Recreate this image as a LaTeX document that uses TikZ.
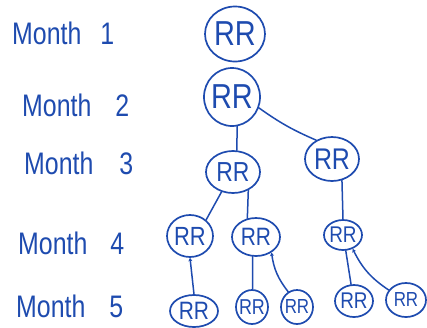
\documentclass[tikz,border=0pt]{standalone}
\usepackage{fontspec}
\setmainfont{Liberation Sans}
\usetikzlibrary{shapes.geometric,arrows.meta}
\definecolor{ink}{RGB}{30,75,175}
\newcommand\pairtext[1]{\makebox[0pt]{\raisebox{-.5\height}[0pt][0pt]{\scalebox{1}[1.2]{#1}}}}
\newcommand\monthtext[2]{\scalebox{1}[1.25]{Month \hspace{#1}#2}}
\tikzset{
  pair/.style={ellipse, draw=ink, line width=1.7bp, text=ink, inner sep=0pt},
  lbl/.style={text=ink, anchor=west, inner sep=0pt, font=\fontsize{25}{25}\selectfont},
  link/.style={draw=ink, line width=1.5bp, line cap=round},
  uplink/.style={link, -{Stealth[length=3.5bp,width=4bp]}}
}
\begin{document}
\begin{tikzpicture}[x=1bp,y=-1bp]
\useasboundingbox (0,0) rectangle (427,328);
% month labels
\node[lbl] (m1) at (12,33) {\monthtext{12bp}{1}};
\node[lbl] (m2) at (22,105) {\monthtext{17bp}{2}};
\node[lbl] (m3) at (24,163) {\monthtext{19bp}{3}};
\node[lbl] (m4) at (18,243) {\monthtext{16bp}{4}};
\node[lbl] (m5) at (16,306) {\monthtext{17bp}{5}};
% rabbit pairs
\node[pair, minimum width=60bp, minimum height=55bp, font=\fontsize{29}{29}\selectfont] (n1) at (235,34) {\pairtext{RR}};
\node[pair, minimum width=56bp, minimum height=58bp, font=\fontsize{29}{29}\selectfont] (n2) at (232,97) {\pairtext{RR}};
\node[pair, minimum width=54bp, minimum height=42bp, font=\fontsize{23}{23}\selectfont] (n3a) at (233,172) {\pairtext{RR}};
\node[pair, minimum width=54bp, minimum height=44bp, font=\fontsize{25}{25}\selectfont] (n3b) at (332,159) {\pairtext{RR}};
\node[pair, minimum width=46bp, minimum height=42bp, font=\fontsize{22}{22}\selectfont] (n4a) at (190,236) {\pairtext{RR}};
\node[pair, minimum width=48bp, minimum height=38bp, font=\fontsize{21}{21}\selectfont] (n4b) at (256,237) {\pairtext{RR}};
\node[pair, minimum width=38bp, minimum height=30bp, font=\fontsize{19}{19}\selectfont] (n4c) at (343,235) {\pairtext{RR}};
\node[pair, minimum width=48bp, minimum height=32bp, font=\fontsize{21}{21}\selectfont] (n5a) at (194,311) {\pairtext{RR}};
\node[pair, minimum width=32bp, minimum height=34bp, font=\fontsize{18}{18}\selectfont] (n5b) at (252,307) {\pairtext{RR}};
\node[pair, minimum width=32bp, minimum height=34bp, font=\fontsize{17}{17}\selectfont] (n5c) at (297,307) {\pairtext{RR}};
\node[pair, minimum width=38bp, minimum height=32bp, font=\fontsize{19}{19}\selectfont] (n5d) at (354,301) {\pairtext{RR}};
\node[pair, minimum width=40bp, minimum height=34bp, font=\fontsize{17}{17}\selectfont] (n5e) at (406,300) {\pairtext{RR}};
% connectors
\draw[link] (n2.-80) -- (n3a.80);
\draw[link] (n2.-22) to[bend right=6] (n3b.130);
\draw[link] (n3a.-120) -- (n4a.45);
\draw[link] (n3a.-50) -- (n4b.115);
\draw[link] (n3b.-65) -- (n4c.north);
\draw[uplink] (n5a.north) -- (n4a.south);
\draw[link] (n5b.88) -- (n4b.-100);
\draw[uplink] (n5c.120) to[bend left=15] (n4b.-45);
\draw[link] (n5d.100) -- (n4c.-80);
\draw[uplink] (n5e.150) to[bend left=15] (n4c.-55);
\end{tikzpicture}
\end{document}
